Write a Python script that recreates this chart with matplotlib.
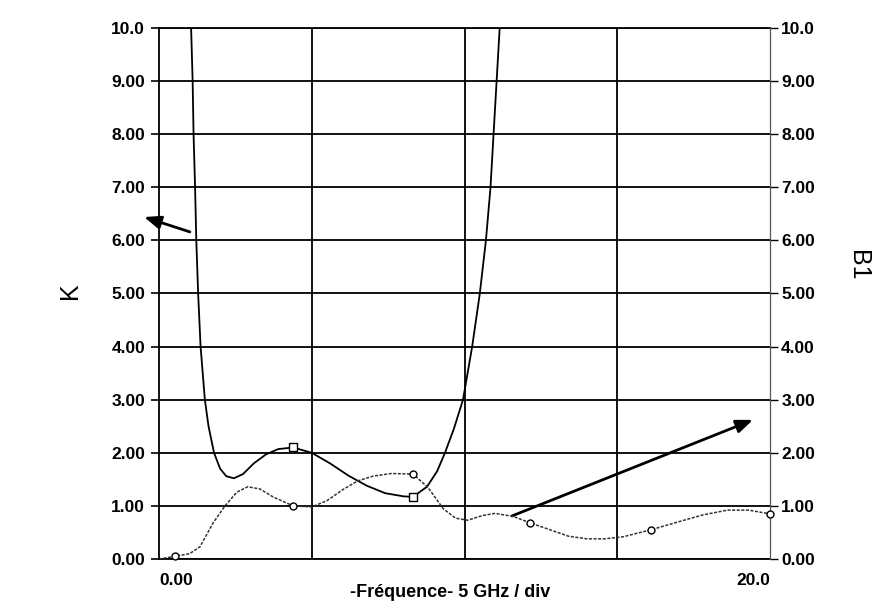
import matplotlib
matplotlib.use('Agg')
import matplotlib.pyplot as plt

plt.rcParams['font.family'] = ['Liberation Sans', 'DejaVu Sans']

# K curve (left axis); values above 10 leave the frame
k_freq = [1.00, 1.05, 1.10, 1.13, 1.18, 1.22, 1.28, 1.36, 1.50, 1.62, 1.80, 2.00,
          2.20, 2.45, 2.75, 3.10, 3.50, 3.90, 4.39, 5.00, 5.60, 6.20, 6.80, 7.40,
          8.00, 8.31, 8.77, 9.10, 9.36, 9.65, 9.95, 10.25, 10.50, 10.70, 10.85,
          10.95, 11.05, 11.15, 11.20]
k_vals = [11.0, 10.0, 9.0, 8.0, 7.0, 6.0, 5.0, 4.0, 3.0, 2.5, 2.0, 1.70,
          1.56, 1.52, 1.60, 1.80, 1.97, 2.07, 2.10, 2.00, 1.80, 1.57, 1.38, 1.24,
          1.18, 1.17, 1.36, 1.65, 2.00, 2.45, 3.0, 4.0, 5.0, 6.0, 7.0,
          8.0, 9.0, 10.0, 11.0]
k_mark_freq = [4.39, 8.31]
k_mark_vals = [2.10, 1.17]

# B1 curve (right axis)
b1_freq = [0.00, 0.52, 1.00, 1.34, 1.77, 2.16, 2.55, 2.90, 3.30, 3.73, 4.39, 5.00,
           5.50, 6.00, 6.50, 7.00, 7.60, 8.31, 8.80, 9.30, 9.70, 10.10, 10.60,
           11.00, 11.60, 12.15, 12.80, 13.40, 14.00, 14.60, 15.20, 16.10, 17.00,
           17.80, 18.60, 19.30, 20.00]
b1_vals = [0.00, 0.05, 0.10, 0.23, 0.68, 1.00, 1.26, 1.36, 1.32, 1.17, 1.00, 0.98,
           1.10, 1.30, 1.47, 1.56, 1.61, 1.60, 1.35, 0.95, 0.77, 0.73, 0.82,
           0.86, 0.80, 0.68, 0.55, 0.43, 0.38, 0.38, 0.42, 0.55, 0.70,
           0.83, 0.92, 0.92, 0.85]
b1_mark_freq = [0.52, 4.39, 8.31, 12.15, 16.10, 20.00]
b1_mark_vals = [0.05, 1.00, 1.60, 0.68, 0.55, 0.85]

y_ticks = [0, 1, 2, 3, 4, 5, 6, 7, 8, 9, 10]
y_tick_labels = ['0.00', '1.00', '2.00', '3.00', '4.00', '5.00', '6.00', '7.00',
                 '8.00', '9.00', '10.0']
x_gridlines = [5, 10, 15]

fig = plt.figure(figsize=(8.85, 6.11), dpi=100)
ax = fig.add_axes([0.1797, 0.0851, 0.6904, 0.8691])
ax2 = ax.twinx()

ax.set_xlim(0, 20)
ax.set_ylim(0, 10)
ax2.set_ylim(0, 10)

for y in y_ticks:
    ax.axhline(y, color='black', lw=1.3, zorder=1)
for x in x_gridlines:
    ax.axvline(x, color='black', lw=1.3, zorder=1)

ax.plot(k_freq, k_vals, color='black', lw=1.3, zorder=3)
ax.plot(k_mark_freq, k_mark_vals, ls='none', marker='s', ms=5.5, mfc='white',
        mec='black', mew=1.0, zorder=4)
ax2.plot(b1_freq, b1_vals, color='#333333', lw=1.1, ls=(0, (2, 1)), zorder=3)
ax2.plot(b1_mark_freq, b1_mark_vals, ls='none', marker='o', ms=5, mfc='white',
         mec='black', mew=1.0, zorder=4, clip_on=False)

# arrows pointing to each axis
ax.annotate('', xy=(-0.49, 6.44), xytext=(1.01, 6.16), annotation_clip=False,
            arrowprops=dict(arrowstyle='-|>,head_length=1.0,head_width=0.4',
                            color='black', lw=2.0, shrinkA=0, shrinkB=0))
ax.annotate('', xy=(19.44, 2.62), xytext=(11.55, 0.81), annotation_clip=False,
            arrowprops=dict(arrowstyle='-|>,head_length=1.0,head_width=0.4',
                            color='black', lw=2.0, shrinkA=0, shrinkB=0))

tick_font = dict(fontsize=12.5, fontweight='bold')
ax.set_yticks(y_ticks)
ax.set_yticklabels(y_tick_labels, **tick_font)
ax2.set_yticks(y_ticks)
ax2.set_yticklabels(y_tick_labels, **tick_font)
ax.tick_params(axis='y', direction='out', length=6, width=1.2, pad=4)
ax2.tick_params(axis='y', direction='out', length=6, width=1.0, pad=2)

ax.set_xticks([0, 20])
ax.set_xticklabels(['0.00', '20.0'], **tick_font)
xl = ax.get_xticklabels()
xl[0].set_ha('left')
xl[1].set_ha('right')
ax.tick_params(axis='x', length=0, pad=10)

for side in ['top', 'bottom', 'left']:
    ax.spines[side].set_linewidth(1.3)
ax.spines['right'].set_visible(False)
ax2.spines['left'].set_visible(False)
ax2.spines['top'].set_visible(False)
ax2.spines['bottom'].set_visible(False)
ax2.spines['right'].set_color('#555555')
ax2.spines['right'].set_linewidth(0.9)

fig.text(0.079, 0.525, 'K', fontsize=18, rotation=90, ha='center', va='center')
fig.text(0.969, 0.566, 'B1', fontsize=18, rotation=-90, ha='center', va='center')
fig.text(0.509, 0.031, '-Fréquence- 5 GHz / div', fontsize=13, fontweight='bold',
         ha='center', va='center')

fig.savefig('out.png', dpi=100)
